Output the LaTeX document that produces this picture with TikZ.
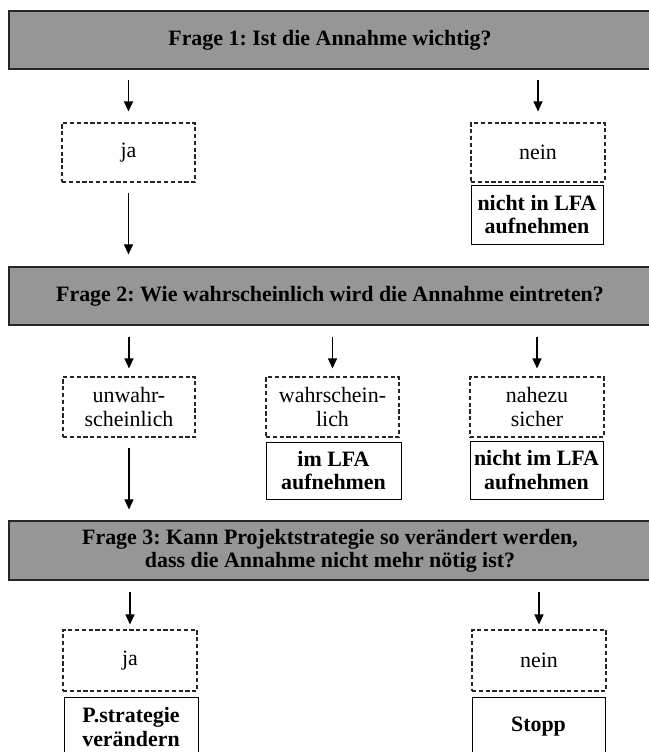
\documentclass[tikz,border=0pt]{standalone}
\usepackage{fontspec}
\setmainfont{Liberation Serif}
\usetikzlibrary{arrows.meta}
\definecolor{hdrgray}{RGB}{150,150,150}
\frenchspacing
\begin{document}
\begin{tikzpicture}[x=1bp,y=-1bp,
  every node/.style={font=\fontsize{22}{24}\selectfont, align=center, inner sep=0pt},
  hdr/.style={draw=black!85, line width=1.2bp, fill=hdrgray, minimum width=642bp,
    minimum height=58bp, font=\fontsize{22}{23}\selectfont\bfseries},
  choice/.style={draw=black!85, dash pattern=on 4.2bp off 2.6bp, line width=1.1bp,
    minimum width=133bp, minimum height=59bp},
  result/.style={draw=black, line width=1bp, minimum width=134bp, minimum height=58bp,
    font=\fontsize{22}{24}\selectfont\bfseries},
  arr/.style={-{Triangle[width=9bp,length=10bp]}, line width=1.1bp}
]
\useasboundingbox (0,0) rectangle (649,752);

% question bars
\node[hdr] (h1) at (330,40) {Frage 1: Ist die Annahme wichtig?};
\node[hdr] (h2) at (330,296) {Frage 2: Wie wahrscheinlich wird die Annahme eintreten?};
\node[hdr, minimum height=59bp] (h3) at (330,550.5)
  {Frage 3: Kann Projektstrategie so verändert werden,\\dass die Annahme nicht mehr nötig ist?};

% question 1
\node[choice] (ja1) at (128.5,152.5) {ja};
\node[choice, minimum width=134bp] (nein1) at (538,152.5) {nein};
\node[result, minimum width=132bp, minimum height=59bp] (r1) at (537,214.5) {nicht in LFA\\aufnehmen};

% question 2
\node[choice, minimum width=132bp, minimum height=60bp] (unw) at (129,407) {unwahr-\\scheinlich};
\node[choice, minimum height=60bp] (wahr) at (332.5,407) {wahrschein-\\lich};
\node[choice, minimum width=134bp, minimum height=60bp] (nah) at (537,407) {nahezu\\sicher};
\node[result, minimum width=135bp, minimum height=57bp] (r2a) at (333.5,470.5) {im LFA\\aufnehmen};
\node[result, minimum width=133bp] (r2b) at (536.5,470) {nicht im LFA\\aufnehmen};

% question 3
\node[choice, minimum width=134bp, minimum height=61bp] (ja3) at (130,660.5) {ja};
\node[choice, minimum width=134bp, minimum height=61bp] (nein3) at (539,660.5) {nein};
\node[result, minimum height=60bp] (r3a) at (131,727) {P.strategie\\verändern};
\node[result, minimum width=133bp, minimum height=60bp] (r3b) at (538.5,727) {Stopp};

% connectors
\draw[arr, shorten <=10bp, shorten >=11bp] (ja1.north |- h1.south) -- (ja1.north);
\draw[arr, shorten <=10bp, shorten >=11bp] (nein1.north |- h1.south) -- (nein1.north);
\draw[arr, shorten <=10bp, shorten >=12bp] (ja1.south) -- (ja1.south |- h2.north);

\draw[arr, shorten <=11bp, shorten >=8bp] (unw.north |- h2.south) -- (unw.north);
\draw[arr, shorten <=11bp, shorten >=8bp] (wahr.north |- h2.south) -- (wahr.north);
\draw[arr, shorten <=11bp, shorten >=8bp] (nah.north |- h2.south) -- (nah.north);
\draw[arr, shorten <=10bp, shorten >=11bp] (unw.south) -- (unw.south |- h3.north);

\draw[arr, shorten <=11bp, shorten >=5bp] (ja3.north |- h3.south) -- (ja3.north);
\draw[arr, shorten <=11bp, shorten >=5bp] (nein3.north |- h3.south) -- (nein3.north);
\end{tikzpicture}
\end{document}
